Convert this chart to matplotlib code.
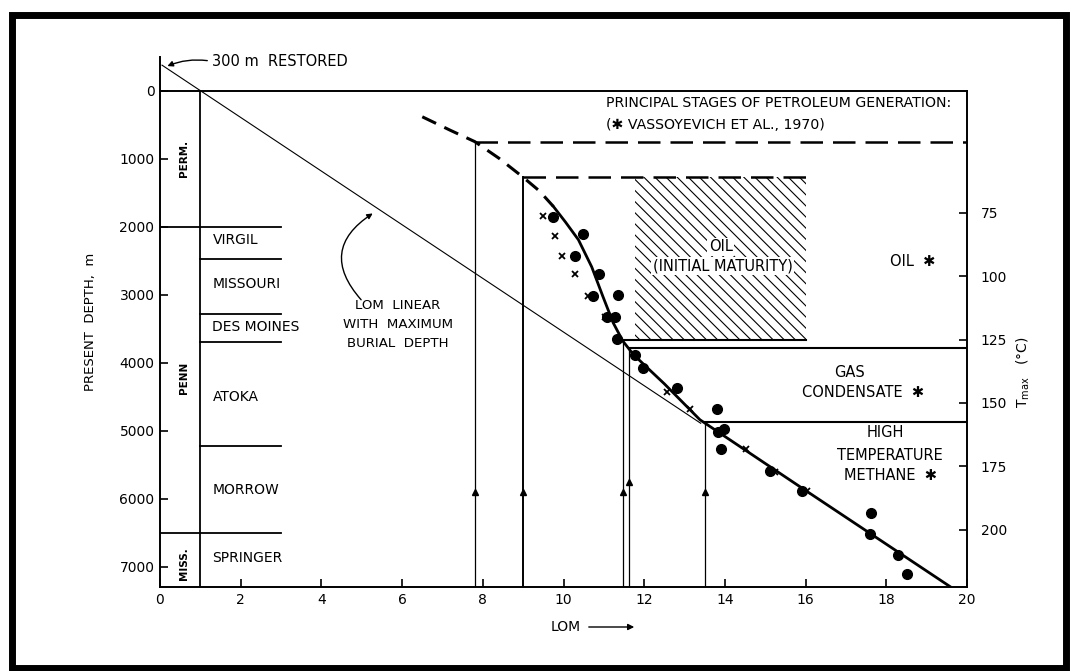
import matplotlib
matplotlib.use("Agg")
import matplotlib.pyplot as plt
from matplotlib.patches import Rectangle, FancyArrowPatch

plt.rcParams['font.family'] = ['DejaVu Sans']
plt.rcParams['hatch.linewidth'] = 0.8

# stratigraphic column (depth, m)
system_names = ['PERM.', 'PENN', 'MISS.']
system_depth = [1000, 4220, 6950]
series_bounds = [2000, 2480, 3280, 3700, 5220, 6500]
series_names = ['VIRGIL', 'MISSOURI', 'DES MOINES', 'ATOKA', 'MORROW', 'SPRINGER']
series_depth = [2200, 2840, 3480, 4510, 5870, 6870]

# measured LOM
dot_lom = [9.74, 10.48, 10.29, 10.88, 10.73, 11.35, 11.08, 11.28, 11.33, 11.77, 11.97,
           12.81, 13.80, 13.98, 13.83, 13.90, 15.12, 15.91, 17.62, 17.60, 18.29, 18.51]
dot_depth = [1853, 2103, 2426, 2691, 3015, 3000, 3324, 3324, 3647, 3880, 4070,
             4368, 4676, 4971, 5015, 5265, 5595, 5882, 6206, 6515, 6824, 7103]
cross_lom = [9.49, 9.79, 9.97, 10.29, 10.61, 11.03, 12.56, 13.13, 14.52, 15.24, 16.03]
cross_depth = [1838, 2132, 2426, 2691, 3015, 3324, 4426, 4676, 5265, 5603, 5882]

# fitted LOM curve
dash_lom = [6.5, 7.2, 7.8, 8.4, 9.0, 9.4, 9.75]
dash_depth = [380, 580, 745, 990, 1270, 1470, 1700]
fit_lom = [9.75, 10.05, 10.37, 10.7, 10.98, 11.23, 11.47, 11.72, 12.0, 12.5, 13.38, 15.86, 19.58]
fit_depth = [1700, 1930, 2190, 2590, 3030, 3410, 3680, 3870, 4030, 4310, 4838, 5824, 7294]

# LOM linear with maximum burial depth
lin_lom = [0.05, 13.4]
lin_depth = [-380, 4890]

# stage boundaries: LOM and depth
stage_lom = [7.8, 9.0, 11.47, 11.62, 13.5]
stage_depth = [745, 1270, 3660, 3780, 4870]
stage_end = [20, 16.0, 16.0, 20, 20]
stage_dashed = [True, True, False, False, False]
arrow_depth = [5900, 5900, 5900, 5750, 5900]

tmax_ticks = [75, 100, 125, 150, 175, 200]


def tmax_to_depth(t):
    return 1794 + (t - 75) * 37.3


def depth_to_tmax(d):
    return 75 + (d - 1794) / 37.3


fig = plt.figure(figsize=(10.71, 6.71), dpi=100)
ax = fig.add_axes([160 / 1071, 84 / 671, 807 / 1071, 530 / 671])
ax.set_xlim(0, 20)
ax.set_ylim(7300, -500)
ax.spines['top'].set_visible(False)
ax.spines['right'].set_visible(False)
for s in ['left', 'bottom']:
    ax.spines[s].set_linewidth(1.4)
ax.set_xticks(range(0, 21, 2))
ax.set_yticks(range(0, 7001, 1000))
ax.tick_params(direction='in', length=6, width=1.2, labelsize=10, pad=4)
ax.set_ylabel('PRESENT  DEPTH,  m', fontsize=9.5, labelpad=16)

k = 'black'
fs = 10
# frame of the plot
ax.plot([0, 20], [0, 0], color=k, lw=1.4, clip_on=False)
ax.plot([20, 20], [0, 7300], color=k, lw=1.4, clip_on=False)

# stratigraphic column
ax.plot([1, 1], [0, 7300], color=k, lw=1.3)
for b in series_bounds:
    x0 = 0 if b in (2000, 6500) else 1
    ax.plot([x0, 3], [b, b], color=k, lw=1.3)
for n, d in zip(series_names, series_depth):
    ax.text(1.3, d, n, fontsize=fs, va='center', ha='left')
for n, d in zip(system_names, system_depth):
    ax.text(0.6, d, n, fontsize=7.5, rotation=90, va='center', ha='center', fontweight='bold')

# linear LOM
ax.plot(lin_lom, lin_depth, color=k, lw=0.8)
ax.annotate('', xy=(0.12, -350), xytext=(1.24, -441),
            arrowprops=dict(arrowstyle='-|>', color=k, lw=1, mutation_scale=8,
                            connectionstyle='arc3,rad=0.15'))
ax.text(1.3, -441, '300 m  RESTORED', fontsize=10.5, va='center', ha='left')
ax.annotate('', xy=(5.33, 1780), xytext=(5.03, 3103),
            arrowprops=dict(arrowstyle='-|>', color=k, lw=1, mutation_scale=8,
                            connectionstyle='arc3,rad=-0.6'))
ax.text(5.9, 3440, 'LOM  LINEAR\nWITH  MAXIMUM\nBURIAL  DEPTH', fontsize=9.6,
        ha='center', va='center', linespacing=1.6)

# stage boundaries
for x, d, e, dsh, a in zip(stage_lom, stage_depth, stage_end, stage_dashed, arrow_depth):
    lw = 1.4 if x == 9.0 else 0.9
    ax.plot([x, x], [7300, d], color=k, lw=lw)
    ax.plot([x], [a], marker='^', color=k, ms=4.5)
    if dsh:
        ax.plot([x, e], [d, d], color=k, lw=1.8, dashes=(9, 4))
    else:
        ax.plot([x, e], [d, d], color=k, lw=1.5)

ax.add_patch(Rectangle((11.77, 1270), 16.0 - 11.77, 3660 - 1270, facecolor='white',
                       edgecolor=k, lw=0, hatch='\\\\\\', zorder=1))

# curve and data
ax.plot(dash_lom, dash_depth, color=k, lw=2.2, dashes=(5, 3))
ax.plot(fit_lom, fit_depth, color=k, lw=2.0)
ax.plot(dot_lom, dot_depth, 'o', color=k, ms=7)
ax.plot(cross_lom, cross_depth, 'x', color=k, ms=4, mew=1.3)

# stage labels
ax.text(11.05, 176, 'PRINCIPAL STAGES OF PETROLEUM GENERATION:', fontsize=10.2, va='center')
ax.text(11.05, 500, '(\u2731 VASSOYEVICH ET AL., 1970)', fontsize=10.2, va='center')
box = dict(facecolor='white', edgecolor='none', pad=1)
ax.text(13.9, 2290, 'OIL', fontsize=10.5, ha='center', va='center', bbox=box)
ax.text(13.95, 2570, '(INITIAL MATURITY)', fontsize=10.5, ha='center', va='center', bbox=box)
ax.text(18.66, 2515, 'OIL  \u2731', fontsize=10.5, ha='center', va='center')
ax.text(17.1, 4150, 'GAS', fontsize=10.5, ha='center', va='center')
ax.text(17.42, 4440, 'CONDENSATE  \u2731', fontsize=10.5, ha='center', va='center')
ax.text(17.97, 5030, 'HIGH', fontsize=10.5, ha='center', va='center')
ax.text(18.09, 5370, 'TEMPERATURE', fontsize=10.5, ha='center', va='center')
ax.text(18.1, 5660, 'METHANE  \u2731', fontsize=10.5, ha='center', va='center')

# Tmax axis
sec = ax.secondary_yaxis('right', functions=(depth_to_tmax, tmax_to_depth))
sec.set_yticks(tmax_ticks)
sec.spines['right'].set_visible(False)
sec.tick_params(direction='in', length=6, width=1.2, labelsize=10, pad=10)
fig.text(1023 / 1071, 1 - 372 / 671, 'T$_{\\rm max}$   (\u00b0C)', rotation=90, fontsize=10,
         ha='center', va='center')

# x label with arrow
fig.text(566 / 1071, 1 - 627 / 671, 'LOM', fontsize=10, ha='center', va='center')
fig.add_artist(FancyArrowPatch((586 / 1071, 1 - 627 / 671), (637 / 1071, 1 - 627 / 671),
                               transform=fig.transFigure, arrowstyle='-|>',
                               mutation_scale=9, color=k, lw=1))

# scan border
fig.add_artist(Rectangle((12 / 1071, 3 / 671), 1054 / 1071, 653 / 671, transform=fig.transFigure,
                         fill=False, edgecolor=k, lw=5))

fig.savefig('out.png', dpi=100)
